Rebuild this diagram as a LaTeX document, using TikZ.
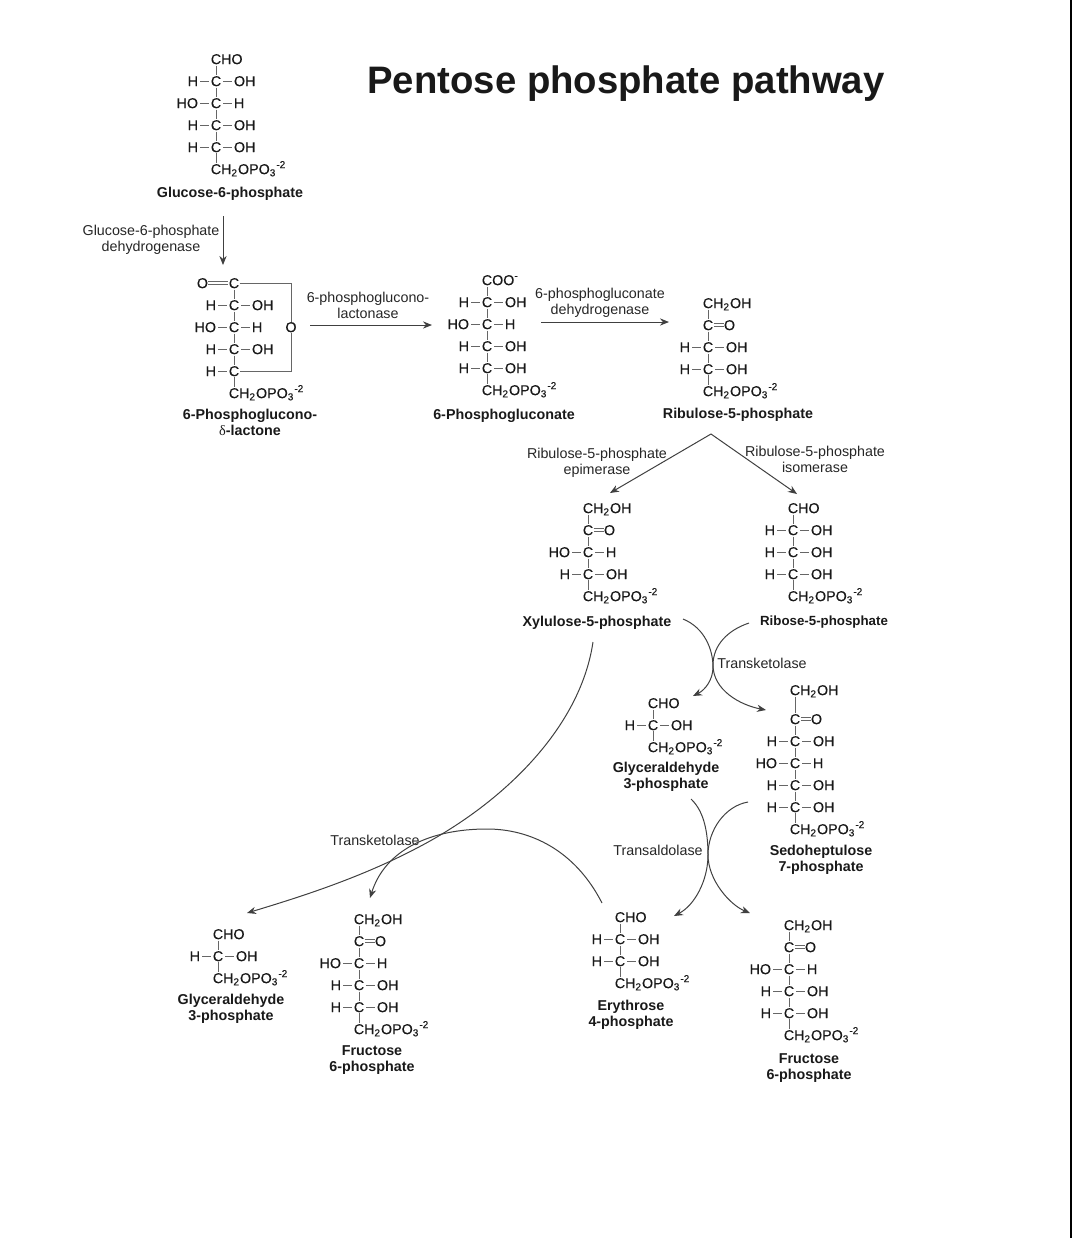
\documentclass[tikz,border=0pt]{standalone}
\usepackage{fontspec}
\setmainfont{Liberation Sans}
\newfontfamily\greekfont{Liberation Serif}
\newfontfamily\atomfont[FakeBold=0.3]{Liberation Sans}
\usetikzlibrary{arrows.meta, positioning}

\tikzset{
  atom/.style={inner sep=0pt, text height=5.1pt, text depth=0pt, text=black!90, font=\fontsize{7.15}{8}\selectfont\atomfont},
  bond/.style={black!60, line width=0.5pt},
  dbond/.style={black!60, double, double distance=1pt, line width=0.35pt},
  rxn/.style={black!75, line width=0.5pt, -{Stealth[length=4.5pt, width=3.6pt]}},
  molname/.style={font=\fontsize{7.15}{8}\selectfont\bfseries, align=center, inner sep=0pt, text=black!90},
  enzyme/.style={align=center, inner sep=0pt, text=black!85},
}
\newcommand{\phos}{CH\textsubscript{2}OPO\textsubscript{3}\textsuperscript{-2}}

% name, C column, top row, top text, rows left/right, bottom text
\newcommand{\chain}[7][22]{%
  \node[atom, anchor=west] (#2-0) at (#3-5.6,#4) {#5};
  \foreach \lo/\hi [count=\i] in {#6} {
    \pgfmathtruncatemacro{\j}{\i-1}
    \pgfmathsetmacro{\ypos}{#4+#1+22*\j}
    \node[atom] (#2-\i) at (#3,\ypos) {C};
    \draw[bond, shorten <=0.5pt, shorten >=0.3pt] (#2-\j.south -| #2-\i) -- (#2-\i.north);
    \ifx\lo\empty
      \node[atom, right=5pt of #2-\i] (#2-\i r) {\hi};
      \draw[dbond] (#2-\i) -- (#2-\i r);
    \else
      \node[atom, left=6pt of #2-\i] (#2-\i l) {\lo};
      \draw[bond, shorten <=0.8pt, shorten >=0.8pt] (#2-\i l) -- (#2-\i);
      \ifx\hi\empty\else
        \node[atom, right=6pt of #2-\i] (#2-\i r) {\hi};
        \draw[bond, shorten <=0.8pt, shorten >=0.8pt] (#2-\i) -- (#2-\i r);
      \fi
    \fi
    \xdef\lastrow{\i}
    \xdef\lasty{\ypos}
  }
  \pgfmathsetmacro{\ypos}{\lasty+22}
  \node[atom, anchor=west] (#2-end) at (#3-5.6,\ypos) {#7};
  \draw[bond, shorten <=0.3pt, shorten >=0.5pt] (#2-\lastrow.south) -- (#2-\lastrow |- #2-end.north);
}

\begin{document}
\begin{tikzpicture}[x=0.5pt, y=-0.5pt, font=\fontsize{7.15}{8}\selectfont]
  \useasboundingbox (0,0) rectangle (1072,1238);
  \draw[black, line width=1pt] (1071,0) -- (1071,1238);
  \node[font=\fontsize{19.15}{22}\selectfont\bfseries, inner sep=0pt, text=black!90] (title) at (626,84) {Pentose phosphate pathway};

  % --- oxidative branch ---
  \chain{g6p}{216}{59}{CHO}{H/OH,HO/H,H/OH,H/OH}{\phos}
  \node[molname] (g6pname) at (230,194) {Glucose-6-phosphate};
  \chain{lac}{234}{283}{C}{H/OH,HO/H,H/OH,H/}{\phos}
  \node[atom, left=10pt of lac-0] (lacdo) {O};
  \draw[dbond] (lacdo) -- (lac-0);
  \node[atom] (laco) at (291,327) {O};
  \draw[bond] (lac-0) -- (lac-0 -| laco) -- (laco);
  \draw[bond] (laco) -- (laco |- lac-4) -- (lac-4);
  \node[molname] (lacname) at (250,422) {6-Phosphoglucono-\\{\greekfont\mdseries δ}-lactone};
  \chain{pgn}{487}{280}{COO\textsuperscript{-}}{H/OH,HO/H,H/OH,H/OH}{\phos}
  \node[molname] (pgnname) at (504,416) {6-Phosphogluconate};
  \chain{rup}{708}{303}{CH\textsubscript{2}OH}{/O,H/OH,H/OH}{\phos}
  \node[molname] (rupname) at (738,415) {Ribulose-5-phosphate};

  % --- pentoses ---
  \chain{xup}{588}{508}{CH\textsubscript{2}OH}{/O,HO/H,H/OH}{\phos}
  \node[molname] (xupname) at (597,623) {Xylulose-5-phosphate};
  \chain{rip}{793}{508}{CHO}{H/OH,H/OH,H/OH}{\phos}
  \node[molname, font=\fontsize{6.65}{8}\selectfont\bfseries] (ripname) at (824,622) {Ribose-5-phosphate};

  % --- products ---
  \chain{gapa}{653}{703}{CHO}{H/OH}{\phos}
  \node[molname] (gapaname) at (666,777) {Glyceraldehyde\\3-phosphate};
  \chain[29]{sed}{795}{690}{CH\textsubscript{2}OH}{/O,H/OH,HO/H,H/OH,H/OH}{\phos}
  \node[molname] (sedname) at (821,860) {Sedoheptulose\\7-phosphate};
  \chain{ery}{620}{917}{CHO}{H/OH,H/OH}{\phos}
  \node[molname] (eryname) at (631,1015) {Erythrose\\4-phosphate};
  \chain{frua}{789}{925}{CH\textsubscript{2}OH}{/O,HO/H,H/OH,H/OH}{\phos}
  \node[molname] (fruaname) at (809,1068) {Fructose\\6-phosphate};
  \chain{gapb}{218}{934}{CHO}{H/OH}{\phos}
  \node[molname] (gapbname) at (231,1009) {Glyceraldehyde\\3-phosphate};
  \chain{frub}{359}{919}{CH\textsubscript{2}OH}{/O,HO/H,H/OH,H/OH}{\phos}
  \node[molname] (frubname) at (372,1060) {Fructose\\6-phosphate};

  % --- enzymes ---
  \node[enzyme] (gpd) at (151,240) {Glucose-6-phosphate\\dehydrogenase};
  \node[enzyme] (pgl) at (368,305) {6-phosphoglucono-\\lactonase};
  \node[enzyme] (pgd) at (600,303) {6-phosphogluconate\\dehydrogenase};
  \node[enzyme] (rpe) at (597,463) {Ribulose-5-phosphate\\epimerase};
  \node[enzyme] (rpi) at (815,459) {Ribulose-5-phosphate\\isomerase};
  \node[enzyme] (tka) at (762,663) {Transketolase};
  \node[enzyme] (tal) at (658,850) {Transaldolase};
  \node[enzyme] (tkb) at (375,840) {Transketolase};

  % --- free ends of the arrows ---
  \coordinate (gpdin) at (223,216);
  \coordinate (gpdout) at (223,265);
  \coordinate (pglin) at (310,325);
  \coordinate (pglout) at (432,325);
  \coordinate (pgdin) at (541,322);
  \coordinate (pgdout) at (669,322);
  \coordinate (fork) at (711,434);
  \coordinate (rpeout) at (610,493);
  \coordinate (rpiout) at (797,494);

  \draw[rxn] (gpdin) -- (gpdout);
  \draw[rxn] (pglin) -- (pglout);
  \draw[rxn] (pgdin) -- (pgdout);
  \draw[rxn] (fork) -- (rpeout);
  \draw[rxn] (fork) -- (rpiout);

  % --- crossing curves ---
  \draw[rxn] (683,619) .. controls (705,628) and (713,650) .. (713,667)
    .. controls (713,680) and (705,690) .. (693,696);
  \draw[rxn] (749,623) .. controls (728,630) and (713,645) .. (713,665)
    .. controls (713,690) and (740,705) .. (766,710);
  \draw[rxn] (691,799) .. controls (705,812) and (708,835) .. (708,855)
    .. controls (708,880) and (695,905) .. (674,916);
  \draw[rxn] (748,802) .. controls (725,806) and (708,830) .. (708,855)
    .. controls (708,880) and (730,905) .. (750,913);
  \draw[rxn] (593,642) .. controls (580,730) and (500,805) .. (417,848)
    .. controls (360,878) and (300,897) .. (247,913);
  \draw[rxn] (602,903) .. controls (575,850) and (530,829) .. (487,829)
    .. controls (430,829) and (385,850) .. (370,898);
\end{tikzpicture}
\end{document}
